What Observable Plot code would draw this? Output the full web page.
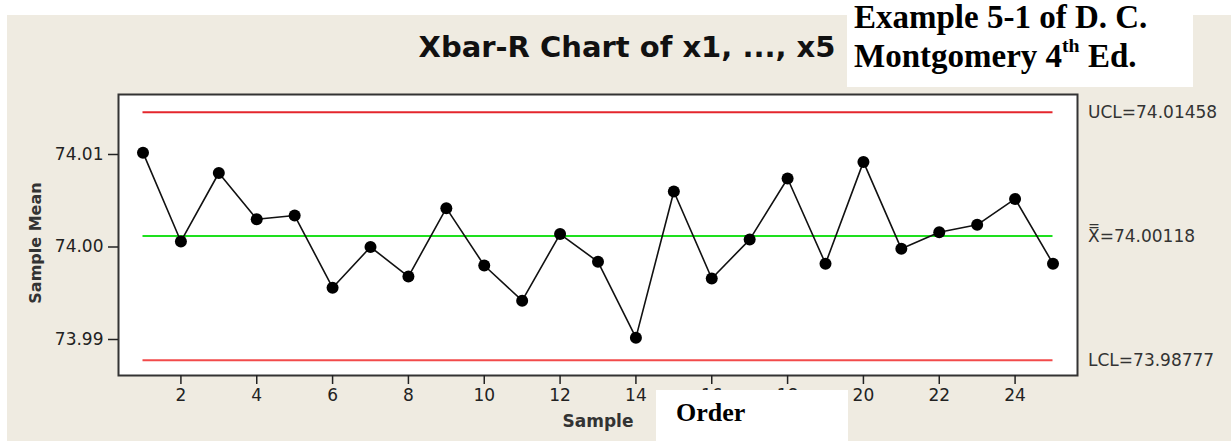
<!DOCTYPE html>
<html>
<head>
<meta charset="utf-8">
<script src="https://cdn.jsdelivr.net/npm/d3@7"></script>
<script src="https://cdn.jsdelivr.net/npm/@observablehq/plot@0.6"></script>
<style>
  html, body { margin: 0; padding: 0; background: #ffffff; }
  #wrap { position: relative; width: 1231px; height: 441px; overflow: hidden; background: #ffffff; }
  #beige { position: absolute; left: 7px; top: 15px; right: 0; bottom: 0; background: #efebe1; }
  #chart { position: absolute; left: 0; top: 0; }
  #title { position: absolute; left: 0; width: 1254px; top: 30px; text-align: center;
           font: bold 29px "DejaVu Sans", sans-serif; color: #111; white-space: nowrap; }
  #note { position: absolute; left: 847px; top: 0; width: 346px; height: 87px; background: #fff; }
  #note div { position: absolute; left: 7px; line-height: 30px; font: bold 33px/30px "Liberation Serif", "Times New Roman", serif; color: #000; white-space: nowrap; }
  #note sup { font-size: 0.6em; position: relative; top: -0.15em; line-height: 0; }
  #order { position: absolute; left: 656px; top: 390px; width: 192px; height: 51px; background: #fff; }
  #order div { position: absolute; left: 20px; top: 8px; font: bold 26px "Liberation Serif", "Times New Roman", serif; color: #000; }
</style>
</head>
<body>
<div id="wrap">
  <div id="beige"></div>
  <div id="title">Xbar-R Chart of x1, ..., x5</div>
  <div id="chart"></div>
  <div id="note"><div style="top:2px">Example 5-1 of D. C.</div><div style="top:41px">Montgomery 4<sup>th</sup> Ed.</div></div>
  <div id="order"><div>Order</div></div>
</div>
<script>
// Data
const samples = [1, 2, 3, 4, 5, 6, 7, 8, 9, 10, 11, 12, 13, 14, 15, 16, 17, 18, 19, 20, 21, 22, 23, 24, 25];
const sampleMeans = [74.0102, 74.0006, 74.0080, 74.0030, 74.0034, 73.9956, 74.0000, 73.9968, 74.0042, 73.9980,
                     73.9942, 74.0014, 73.9984, 73.9902, 74.0060, 73.9966, 74.0008, 74.0074, 73.9982, 74.0092,
                     73.9998, 74.0016, 74.0024, 74.0052, 73.9982];
const xTicks = [2, 4, 6, 8, 10, 12, 14, 16, 18, 20, 22, 24];
const yTicks = [73.99, 74.00, 74.01];
const limitNames = ["UCL", "CL", "LCL"];
const limitValues = [74.01458, 74.00118, 73.98777];
const limitLabels = ["UCL=74.01458", "X\u033F=74.00118", "LCL=73.98777"];
const limitColors = ["#e4262c", "#1ee01e", "#f24a4a"];

const points = samples.map((s, i) => ({sample: s, mean: sampleMeans[i]}));
const limits = limitNames.map((n, i) => ({name: n, value: limitValues[i], label: limitLabels[i], color: limitColors[i]}));
const firstSample = samples[0];
const lastSample = samples[samples.length - 1];

const chart = Plot.plot({
  width: 1231,
  height: 441,
  marginLeft: 118,
  marginRight: 154,
  marginTop: 94,
  marginBottom: 66,
  style: {background: "transparent", fontFamily: "DejaVu Sans, sans-serif", fontSize: "17px", color: "#222", overflow: "visible"},
  x: {domain: [0.354, 25.646]},
  y: {domain: [73.986108, 74.016486]},
  marks: [
    Plot.frame({fill: "#ffffff", stroke: null}),
    Plot.ruleY(limits, {y: "value", x1: firstSample, x2: lastSample, stroke: "color", strokeWidth: 2}),
    Plot.line(points, {x: "sample", y: "mean", stroke: "#111", strokeWidth: 1.6}),
    Plot.dot(points, {x: "sample", y: "mean", r: 6, fill: "#000", stroke: null}),
    Plot.frame({stroke: "#333", strokeWidth: 2}),
    Plot.axisX({ticks: xTicks, tickSize: 9, tickPadding: 4, tickFormat: d3.format("d"), label: null, fontSize: 17, stroke: "#222", strokeWidth: 1.5}),
    Plot.axisY({ticks: yTicks, tickSize: 10, tickPadding: 5, tickFormat: d3.format(".2f"), label: null, fontSize: 17, stroke: "#222", strokeWidth: 1.5}),
    Plot.text(limits, {x: lastSample, y: "value", text: "label", dx: 35, textAnchor: "start", fontSize: 17, fill: "#333"}),
    Plot.text(["Sample Mean"], {frameAnchor: "left", dx: -83, dy: 8, rotate: -90, textAnchor: "middle", lineAnchor: "middle", fontWeight: "bold", fontSize: 16, fill: "#333"}),
    Plot.text(["Sample"], {frameAnchor: "bottom", dy: 46, textAnchor: "middle", lineAnchor: "middle", fontWeight: "bold", fontSize: 17, fill: "#333"})
  ]
});
document.getElementById("chart").appendChild(chart);
</script>
</body>
</html>
